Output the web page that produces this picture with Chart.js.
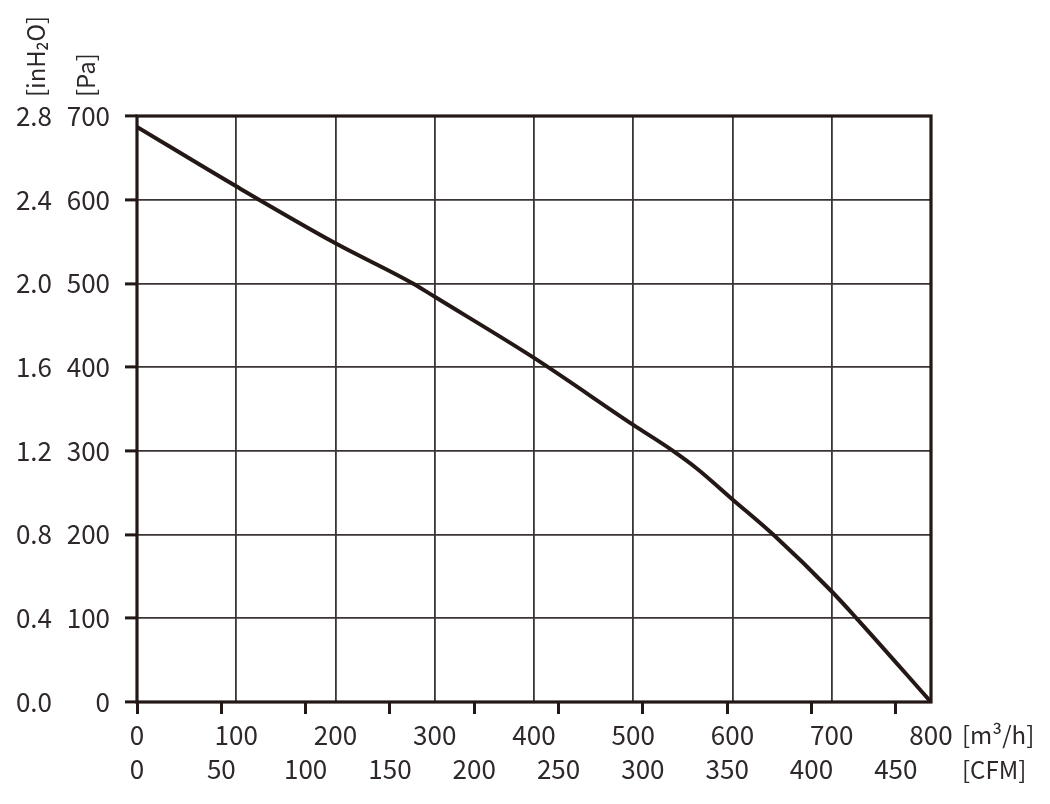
<!DOCTYPE html>
<html>
<head>
<meta charset="utf-8">
<script src="https://cdn.jsdelivr.net/npm/chart.js@4.4.1/dist/chart.umd.min.js"></script>
<style>
  html, body { margin: 0; padding: 0; background: #fff; }
  #fanCurve { display: block; }
</style>
</head>
<body>
<canvas id="fanCurve" width="1050" height="804"></canvas>
<script>
// Pontos (vazão em m³/h, pressão estática em Pa)
const flowM3h = [0, 100, 200, 278, 300, 400, 500, 540, 564, 600, 641, 700, 725, 800];
const pressurePa = [687, 616, 548, 500, 484, 411, 331, 300, 279, 242, 200, 132, 100, 0];

// Escalas, marcas e rótulos das unidades
const paRange = [0, 700];
const inH2ORange = [0, 2.8];
const flowRange = [0, 800];
const cfmTicks = [0, 50, 100, 150, 200, 250, 300, 350, 400, 450];
const M3H_PER_CFM = 1.699;
const unitLabels = { pa: '[Pa]', inH2O: '[inH₂O]', flow: '[m³/h]', cfm: '[CFM]' };

const LINE = '#231815';
const GRID = '#3a3534';
const TEXT = '#2e2928';
const FONT = '"Noto Sans CJK SC", "Noto Sans", sans-serif';

Chart.defaults.font.family = FONT;
Chart.defaults.font.size = 26;
Chart.defaults.color = TEXT;

const useCfmTicks = axis => {
    axis.ticks = cfmTicks.map(value => ({ value }));
};

// Moldura e textos de unidade fora da área do gráfico
const framePlugin = {
    id: 'frame',
    afterDraw(chart) {
        const { ctx, chartArea: a } = chart;
        ctx.save();
        ctx.strokeStyle = LINE;
        ctx.lineWidth = 3.2;
        ctx.strokeRect(a.left, a.top, a.right - a.left, a.bottom - a.top);

        ctx.fillStyle = TEXT;
        ctx.font = '24px ' + FONT;
        ctx.textBaseline = 'middle';
        ctx.textAlign = 'left';
        ctx.fillText(unitLabels.flow, 962, 735);
        ctx.fillText(unitLabels.cfm, 962, 770);

        ctx.save();
        ctx.translate(36, 97);
        ctx.rotate(-Math.PI / 2);
        ctx.fillText(unitLabels.inH2O, 0, 0);
        ctx.restore();

        ctx.save();
        ctx.translate(86, 97);
        ctx.rotate(-Math.PI / 2);
        ctx.fillText(unitLabels.pa, 0, 0);
        ctx.restore();
        ctx.restore();
    }
};

new Chart(document.getElementById('fanCurve'), {
    type: 'line',
    data: {
        datasets: [{
            data: flowM3h.map((x, i) => ({ x, y: pressurePa[i] })),
            borderColor: LINE,
            borderWidth: 4,
            pointRadius: 0,
            cubicInterpolationMode: 'monotone',
            borderJoinStyle: 'round',
            xAxisID: 'x',
            yAxisID: 'y'
        }]
    },
    options: {
        responsive: false,
        animation: false,
        layout: { padding: { top: 116, right: 119, bottom: 0, left: 0 } },
        plugins: { legend: { display: false }, tooltip: { enabled: false } },
        scales: {
            y: {
                type: 'linear', position: 'left', weight: 0,
                min: paRange[0], max: paRange[1],
                ticks: { stepSize: 100, padding: 15 },
                grid: { color: GRID, lineWidth: 1.8, tickLength: 12, tickWidth: 3, tickColor: LINE },
                border: { display: false },
                afterFit: s => { s.width = 77; }
            },
            y2: {
                type: 'linear', position: 'left', weight: 1,
                min: inH2ORange[0], max: inH2ORange[1],
                ticks: { stepSize: 0.4, padding: 0, callback: v => v.toFixed(1) },
                grid: { display: false },
                border: { display: false },
                afterFit: s => { s.width = 60; }
            },
            xt: {
                type: 'linear', position: 'bottom', weight: 0,
                min: flowRange[0] / M3H_PER_CFM, max: flowRange[1] / M3H_PER_CFM,
                afterBuildTicks: useCfmTicks,
                ticks: { display: false },
                grid: { drawOnChartArea: false, tickLength: 12, tickWidth: 3, tickColor: LINE },
                border: { display: false },
                afterFit: s => { s.height = 12; }
            },
            x: {
                type: 'linear', position: 'bottom', weight: 1,
                min: flowRange[0], max: flowRange[1],
                ticks: { stepSize: 100, padding: 6, maxRotation: 0 },
                grid: { color: GRID, lineWidth: 1.8, drawTicks: false },
                border: { display: false },
                afterFit: s => { s.height = 36; }
            },
            xc: {
                type: 'linear', position: 'bottom', weight: 2,
                min: flowRange[0] / M3H_PER_CFM, max: flowRange[1] / M3H_PER_CFM,
                afterBuildTicks: useCfmTicks,
                ticks: { padding: -4, maxRotation: 0 },
                grid: { display: false },
                border: { display: false },
                afterFit: s => { s.height = 54; }
            }
        }
    },
    plugins: [framePlugin]
});
</script>
</body>
</html>
